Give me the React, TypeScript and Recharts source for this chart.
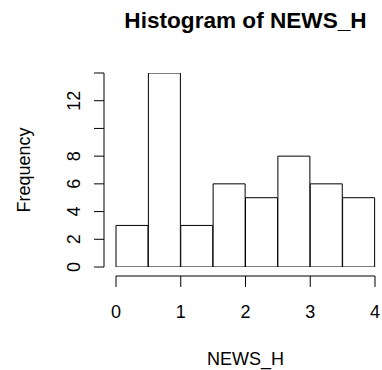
import React from 'react';
import { BarChart, Bar, XAxis, YAxis } from 'recharts';

// Histogram bins (width 0.5) and their counts
const binStarts = [0, 0.5, 1, 1.5, 2, 2.5, 3, 3.5];
const binLabels = ['0–0.5', '0.5–1', '1–1.5', '1.5–2', '2–2.5', '2.5–3', '3–3.5', '3.5–4'];
const frequencies = [3, 14, 3, 6, 5, 8, 6, 5];

// Axis ticks
const xTicks = [0, 1, 2, 3, 4];
const yTicks = [0, 2, 4, 6, 8, 10, 12, 14];
const yTickLabels = [0, 2, 4, 6, 8, 12];

const chartTitle = 'Histogram of NEWS_H';
const xTitle = 'NEWS_H';
const yTitle = 'Frequency';

const data = binLabels.map((bin, i) => ({ bin, start: binStarts[i], count: frequencies[i] }));

const FONT = '"Liberation Sans", Arial, Helvetica, sans-serif';
const INK = '#000';

function YTick(props: any) {
  const { x, y, payload } = props;
  if (!yTickLabels.includes(payload.value)) return <g />;
  return (
    <text
      transform={`translate(${x - 14},${y}) rotate(-90)`}
      textAnchor="middle"
      fontSize={18}
      fontFamily={FONT}
      fill={INK}
    >
      {payload.value}
    </text>
  );
}

function XTick(props: any) {
  const { x, y, payload } = props;
  return (
    <text x={x} y={y + 31} textAnchor="middle" fontSize={18} fontFamily={FONT} fill={INK}>
      {payload.value}
    </text>
  );
}

function YTitle(props: any) {
  const vb = props.viewBox || { x: 0, y: 0, width: 0, height: 0 };
  const cy = vb.y + vb.height / 2;
  return (
    <text
      transform={`translate(${vb.x + 30},${cy}) rotate(-90)`}
      textAnchor="middle"
      fontSize={18}
      fontFamily={FONT}
      fill={INK}
    >
      {yTitle}
    </text>
  );
}

function XTitle(props: any) {
  const vb = props.viewBox || { x: 0, y: 0, width: 0, height: 0 };
  return (
    <text x={vb.x + vb.width / 2} y={vb.y + 89} textAnchor="middle" fontSize={18} fontFamily={FONT} fill={INK}>
      {xTitle}
    </text>
  );
}

export default function App() {
  return (
    <div style={{ position: 'absolute', left: 0, top: 0, width: 382, height: 370, background: '#fff' }}>
      <BarChart
        width={382}
        height={370}
        data={data}
        margin={{ top: 73, right: 7, bottom: 0, left: 0 }}
        barCategoryGap={0}
        barGap={0}
      >
        {/* inner spacer axes keep the axis lines detached from the bars */}
        <XAxis dataKey="bin" xAxisId="a_bins" height={9} tick={false} tickLine={false} axisLine={false} />
        <XAxis
          xAxisId="b_scale"
          dataKey="start"
          type="number"
          domain={[0, 4]}
          ticks={xTicks}
          interval={0}
          height={94}
          tickSize={11}
          tickMargin={0}
          tick={<XTick />}
          axisLine={{ stroke: INK }}
          tickLine={{ stroke: INK }}
          label={<XTitle />}
        />
        <YAxis yAxisId="a_gap" width={12} tick={false} tickLine={false} axisLine={false} />
        <YAxis
          yAxisId="b_count"
          domain={[0, 14]}
          ticks={yTicks}
          allowDataOverflow
          interval={0}
          width={104}
          tickSize={10}
          tickMargin={0}
          tick={<YTick />}
          axisLine={{ stroke: INK }}
          tickLine={{ stroke: INK }}
          label={<YTitle />}
        />
        <Bar
          dataKey="count"
          xAxisId="a_bins"
          yAxisId="b_count"
          fill="#fff"
          stroke={INK}
          strokeWidth={1}
          isAnimationActive={false}
        />
      </BarChart>
      <svg
        width={382}
        height={40}
        style={{ position: 'absolute', left: 0, top: 0, pointerEvents: 'none' }}
      >
        <text x={245.5} y={28} textAnchor="middle" fontSize={22.6} fontWeight="bold" fontFamily={FONT} fill={INK}>
          {chartTitle}
        </text>
      </svg>
    </div>
  );
}
